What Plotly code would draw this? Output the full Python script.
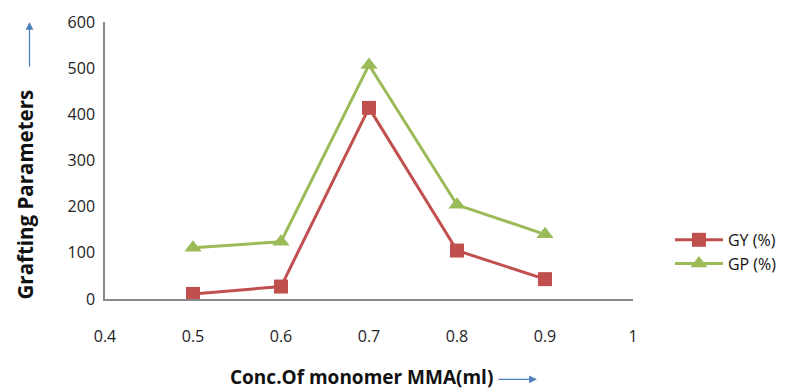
import plotly.graph_objects as go

conc = [0.5, 0.6, 0.7, 0.8, 0.9]
gy = [11, 27, 414, 105, 43]
gp = [111, 124, 507, 204, 140]
x_ticks = [0.4, 0.5, 0.6, 0.7, 0.8, 0.9, 1.0]
x_tick_labels = ["0.4", "0.5", "0.6", "0.7", "0.8", "0.9", "1"]
y_ticks = [0, 100, 200, 300, 400, 500, 600]

FONT = "Open Sans"

fig = go.Figure()
fig.add_trace(go.Scatter(x=conc, y=gy, mode="lines+markers", name="GY (%)",
                         line=dict(color="#C0504D", width=3),
                         marker=dict(symbol="square", size=14, color="#C0504D")))
fig.add_trace(go.Scatter(x=conc, y=gp, mode="lines+markers", name="GP (%)",
                         line=dict(color="#9BBB59", width=3),
                         marker=dict(symbol="triangle-up", size=15, color="#9BBB59")))

fig.update_layout(
    width=794, height=392,
    margin=dict(l=105, r=156, t=22, b=93),
    paper_bgcolor="white", plot_bgcolor="white",
    font=dict(family=FONT, size=16, color="#222"),
    showlegend=True,
    legend=dict(x=1.07, y=0.17, xanchor="left", yanchor="middle",
                font=dict(family=FONT, size=16, color="#111"),
                tracegroupgap=0, itemwidth=48),
    xaxis=dict(range=[0.4, 1.0], tickvals=x_ticks, ticktext=x_tick_labels,
               showgrid=False, zeroline=False, showline=True, linecolor="#888",
               linewidth=1.5, ticks="", ticklabelstandoff=22,
               tickfont=dict(family=FONT, size=16, color="#222")),
    yaxis=dict(range=[0, 600], tickvals=y_ticks, showgrid=False, zeroline=False,
               showline=True, linecolor="#888", linewidth=1.5, ticks="",
               ticklabelstandoff=5,
               tickfont=dict(family=FONT, size=16, color="#222")),
    annotations=[
        dict(text="<b>Grafting Parameters</b>", xref="paper", yref="paper",
             x=-0.152, y=-0.01, xanchor="center", yanchor="bottom", textangle=-90,
             showarrow=False, font=dict(family=FONT, size=20.5, color="#111")),
        dict(text="<b>Conc.Of monomer MMA(ml)</b>", xref="paper", yref="paper",
             x=0.486, y=-0.283, xanchor="center", yanchor="middle",
             showarrow=False, font=dict(family=FONT, size=19, color="#111")),
        dict(text="", xref="paper", yref="paper", axref="pixel", ayref="pixel",
             x=-0.143, y=1.0, ax=0, ay=46, showarrow=True, arrowhead=2,
             arrowsize=1.2, arrowwidth=1.3, arrowcolor="#4F81BD"),
        dict(text="", xref="paper", yref="paper", axref="pixel", ayref="pixel",
             x=0.818, y=-0.29, ax=-40, ay=0, showarrow=True, arrowhead=2,
             arrowsize=1.2, arrowwidth=1.3, arrowcolor="#4F81BD"),
    ],
)

fig.write_html("out.html")
